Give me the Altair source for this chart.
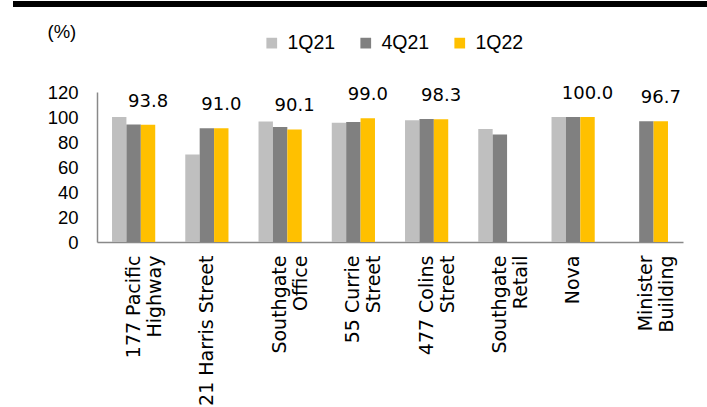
import altair as alt
import pandas as pd

# ---- data ----
categories = ["177 Pacific\nHighway", "21 Harris Street", "Southgate\nOffice", "55 Currie\nStreet",
              "477 Colins\nStreet", "Southgate\nRetail", "Nova", "Minister\nBuilding"]
periods = ["1Q21", "4Q21", "1Q22"]
q1_21 = [100.0, 70.0, 96.5, 95.5, 97.5, 90.5, 100.0, None]
q4_21 = [94.0, 91.0, 92.0, 96.0, 98.5, 86.0, 100.0, 96.7]
q1_22 = [93.8, 91.0, 90.1, 99.0, 98.3, None, 100.0, 96.7]
y_ticks = [0, 20, 40, 60, 80, 100, 120]
colors = ["#BFBFBF", "#808080", "#FFC000"]

rows = []
for series, vals in zip(periods, [q1_21, q4_21, q1_22]):
    for cat, v in zip(categories, vals):
        if v is not None:
            rows.append({"category": cat, "period": series, "value": v})
df = pd.DataFrame(rows)

LAB_FONT = "DejaVu Sans"
ARIAL = "Liberation Sans"

x_enc = alt.X(
    "category:N", sort=categories,
    scale=alt.Scale(paddingInner=0.41, paddingOuter=0.205),
    axis=alt.Axis(
        title=None, labelAngle=270, labelAlign="right", labelBaseline="middle",
        labelExpr="split(datum.label, '\\n')", labelFont=LAB_FONT, labelFontSize=19,
        labelLineHeight=21, labelColor="#000000", labelPadding=13, ticks=False,
        domainColor="#898989", domainWidth=1.5, labelLimit=0, labelOverlap=False,
    ),
)
xoff = alt.XOffset("period:N", sort=periods, scale=alt.Scale(domain=periods, paddingInner=0, paddingOuter=0))
y_enc = alt.Y(
    "value:Q", scale=alt.Scale(domain=[0, 120], nice=False),
    axis=alt.Axis(
        values=y_ticks, grid=False, ticks=False, domainColor="#898989", domainWidth=1.5,
        labelFont=ARIAL, labelFontSize=18.5, labelColor="#000000", labelPadding=19,
        labelOverlap=False, labelFlush=False,
        title="(%)", titleAngle=0, titleAlign="left", titleBaseline="top",
        titleX=-50, titleY=-70, titleFont=ARIAL, titleFontSize=18.5, titleFontWeight="normal",
        titleColor="#000000",
    ),
)

bars = alt.Chart(df).mark_bar().encode(
    x=x_enc, xOffset=xoff, y=y_enc,
    color=alt.Color(
        "period:N", sort=periods, scale=alt.Scale(domain=periods, range=colors),
        legend=alt.Legend(
            title=None, orient="none", direction="horizontal", legendX=165, legendY=-59,
            symbolType="square", symbolSize=115, symbolStrokeWidth=0, labelFont=ARIAL,
            labelFontSize=19.5, labelColor="#000000", labelOffset=6, columnPadding=20, padding=0,
        ),
    ),
)

labels = alt.Chart(df).transform_filter(alt.datum.period == "1Q22").mark_text(
    font=LAB_FONT, fontSize=18, baseline="middle", dy=-23, color="#000000"
).encode(x=x_enc, xOffset=xoff, y=y_enc,
         text=alt.Text("value:Q", format=".1f"))

top_bar = alt.Chart(df).mark_rule(color="#000000", strokeWidth=4.5).encode(
    x=alt.value(-84), x2=alt.value(620), y=alt.value(-88)
)

chart = alt.layer(bars, labels, top_bar).properties(
    width=586, height=150,
    autosize=alt.AutoSizeParams(type="none"),
    padding={"left": 97, "top": 92, "right": 24, "bottom": 165},
).configure_view(stroke=None)

chart.save("out.html", embed_options={"renderer": "svg", "actions": False})
